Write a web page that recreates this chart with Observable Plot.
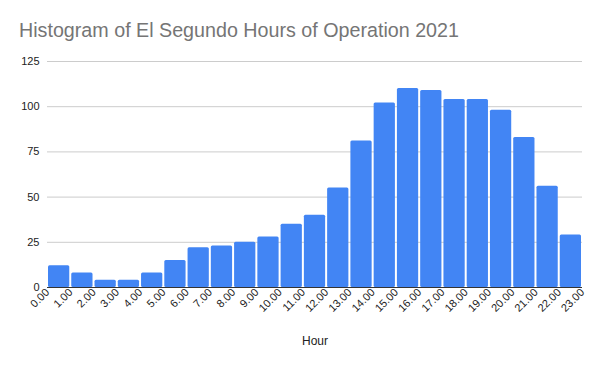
<!DOCTYPE html>
<html>
<head>
<meta charset="utf-8">
<script src="https://cdn.jsdelivr.net/npm/d3@7"></script>
<script src="https://cdn.jsdelivr.net/npm/@observablehq/plot@0.6"></script>
<style>
  html, body { margin: 0; padding: 0; background: #fff; }
  #wrap { width: 600px; height: 371px; position: relative; font-family: "Liberation Sans", Arial, sans-serif; }
  #title { height: 50px; box-sizing: border-box; padding: 19px 0 0 19px; font-size: 19.7px; color: #757575; line-height: 22px; white-space: nowrap; }
  svg { display: block; }
</style>
</head>
<body>
<div id="wrap">
  <div id="title">Histogram of El Segundo Hours of Operation 2021</div>
  <div id="chart"></div>
</div>
<script>
// bin starts (hours) and counts
const binStarts = [0,1,2,3,4,5,6,7,8,9,10,11,12,13,14,15,16,17,18,19,20,21,22];
const counts    = [12,8,4,4,8,15,22,23,25,28,35,40,55,81,102,110,109,104,104,98,83,56,29];
const xTicks    = [0,1,2,3,4,5,6,7,8,9,10,11,12,13,14,15,16,17,18,19,20,21,22,23];
const yTicks    = [0,25,50,75,100,125];

const data = binStarts.map((s, i) => ({x1: s, x2: s + 1, count: counts[i]}));

const chart = Plot.plot({
  width: 600,
  height: 321,
  marginTop: 11,
  marginBottom: 84,
  marginLeft: 47,
  marginRight: 18,
  style: {fontFamily: "'Liberation Sans', Arial, sans-serif", fontSize: "11px", color: "#444", background: "#fff"},
  x: {domain: [0, 23]},
  y: {domain: [0, 125]},
  marks: [
    Plot.gridY(yTicks, {stroke: "#cccccc", strokeOpacity: 1}),
    Plot.rectY(data, {x1: "x1", x2: "x2", y: "count", fill: "#4285f4", insetLeft: 1, insetRight: 1, rx: 1.5}),
    Plot.ruleY([0], {stroke: "#333"}),
    Plot.axisY(yTicks, {tickSize: 0, tickPadding: 8, label: null, fill: "#222", fontSize: 11}),
    Plot.axisX(xTicks, {tickSize: 0, tickPadding: 3, tickRotate: -45, tickFormat: d3.format(".2f"), label: null, fill: "#222", fontSize: 11}),
    Plot.text(["Hour"], {frameAnchor: "bottom", dy: 57, fill: "#222", fontSize: 12})
  ]
});
document.getElementById("chart").appendChild(chart);
</script>
</body>
</html>
